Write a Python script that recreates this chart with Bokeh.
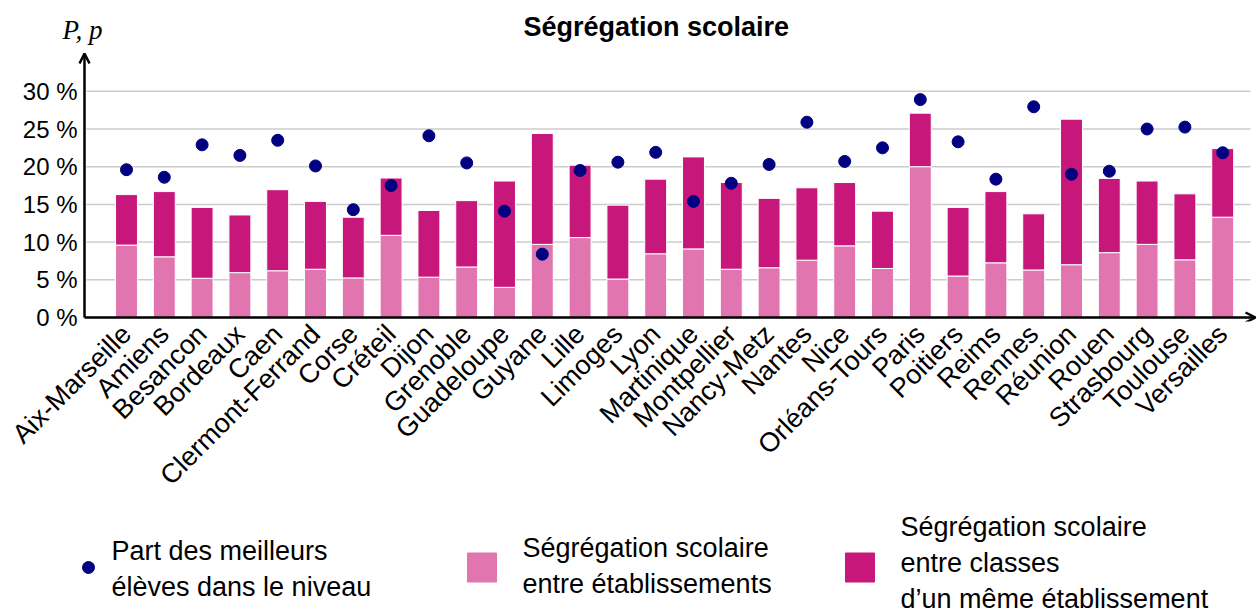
from bokeh.plotting import figure
from bokeh.models import Range1d, FixedTicker, Label, Arrow, OpenHead, ColumnDataSource
from bokeh.layouts import column
from bokeh.core.properties import value
from bokeh.embed import file_html
from bokeh.resources import INLINE

academies = ["Aix-Marseille", "Amiens", "Besancon", "Bordeaux", "Caen", "Clermont-Ferrand",
             "Corse", "Créteil", "Dijon", "Grenoble", "Guadeloupe", "Guyane", "Lille",
             "Limoges", "Lyon", "Martinique", "Montpellier", "Nancy-Metz", "Nantes", "Nice",
             "Orléans-Tours", "Paris", "Poitiers", "Reims", "Rennes", "Réunion", "Rouen",
             "Strasbourg", "Toulouse", "Versailles"]
seg_etablissements = [9.6, 8.05, 5.2, 5.95, 6.2, 6.4, 5.25, 10.9, 5.35, 6.7, 4.0, 9.7, 10.6, 5.1,
                      8.45, 9.1, 6.4, 6.6, 7.6, 9.5, 6.5, 20.0, 5.5, 7.25, 6.3, 7.0, 8.6, 9.7,
                      7.65, 13.3]
seg_classes = [6.7, 8.65, 9.4, 7.65, 10.75, 9.0, 8.05, 7.6, 8.85, 8.8, 14.1, 14.7, 9.6, 9.8,
               9.9, 12.2, 11.5, 9.2, 9.6, 8.4, 7.6, 7.1, 9.1, 9.45, 7.45, 19.3, 9.85, 8.4,
               8.75, 9.1]
part_meilleurs = [19.6, 18.6, 22.9, 21.5, 23.5, 20.1, 14.3, 17.5, 24.1, 20.5, 14.1, 8.4, 19.5,
                  20.6, 21.9, 15.4, 17.8, 20.3, 25.9, 20.7, 22.5, 28.9, 23.3, 18.35, 27.95,
                  19.0, 19.4, 25.0, 25.25, 21.85]
y_ticks = [0, 5, 10, 15, 20, 25, 30]

LIGHT = "#E075AF"
MAGENTA = "#C8177A"
NAVY = "#000080"
FONT = "Liberation Sans"
BASE_SHIFT = 9  # text drawn this many px below the given baseline

xs = list(range(len(academies)))
src = ColumnDataSource(dict(x=xs, etab=seg_etablissements, classes=seg_classes,
                            part=part_meilleurs))

# layout: page pixels -> data
CAT_PX = 37.8
X0 = 126.0
PCT_PX = 7.54
Y0 = 317.0
def dx(px):
    return (px - X0) / CAT_PX
def dy(py):
    return (Y0 - py) / PCT_PX

W = 1257
H1 = 508
FRAME_L = 60
FRAME_B = 321
p = figure(width=W, height=H1, output_backend="svg", toolbar_location=None,
           x_range=Range1d(dx(FRAME_L), dx(W)), y_range=Range1d(dy(FRAME_B), dy(0)),
           min_border_left=FRAME_L, min_border_right=0, min_border_top=0,
           min_border_bottom=H1 - FRAME_B, outline_line_color=None)

# horizontal grid lines, starting at the y axis
p.segment(x0=[dx(86)] * len(y_ticks), x1=[dx(1250)] * len(y_ticks), y0=y_ticks, y1=y_ticks,
          line_color="#CCCCCC", line_width=1.5)

p.vbar_stack(["etab", "classes"], x="x", width=0.58, source=src,
             color=[LIGHT, MAGENTA], line_color="white", line_width=1)
p.scatter("x", "part", source=src, size=12, color=NAVY)

p.grid.visible = False

p.yaxis.ticker = FixedTicker(ticks=y_ticks)
p.yaxis.major_label_overrides = {t: f"{t} %" for t in y_ticks}
p.yaxis.axis_line_color = None
p.yaxis.major_tick_line_color = None
p.yaxis.minor_tick_line_color = None
p.yaxis.major_tick_in = 0
p.yaxis.major_tick_out = 0
p.yaxis.major_label_standoff = FRAME_L - 77
p.yaxis.major_label_text_font = FONT
p.yaxis.major_label_text_font_size = "24px"
p.yaxis.major_label_text_color = "black"

p.xaxis.ticker = FixedTicker(ticks=xs)
p.xaxis.major_label_overrides = {i: a for i, a in enumerate(academies)}
p.xaxis.major_label_orientation = 0.785398
p.xaxis.axis_line_color = None
p.xaxis.major_tick_line_color = None
p.xaxis.minor_tick_line_color = None
p.xaxis.major_label_standoff = 2
p.xaxis.major_label_text_font = FONT
p.xaxis.major_label_text_font_size = "27px"
p.xaxis.major_label_text_color = "black"

# axis arrows
p.add_layout(Arrow(x_start=dx(84), y_start=0, x_end=dx(84), y_end=dy(53),
                   line_width=2.5, line_color="black",
                   end=OpenHead(size=10, line_width=2.5, line_color="black")))
p.add_layout(Arrow(x_start=dx(84), y_start=0, x_end=dx(1255), y_end=0,
                   line_width=2.5, line_color="black",
                   end=OpenHead(size=10, line_width=2.5, line_color="black")))

p.add_layout(Label(x=dx(523), y=dy(35 - BASE_SHIFT), text="Ségrégation scolaire",
                   text_font=FONT, text_font_size="27px", text_font_style="bold",
                   text_align="left", text_baseline="alphabetic", text_color="black"))
p.add_layout(Label(x=dx(62), y=dy(38 - BASE_SHIFT), text="P, p",
                   text_font="Liberation Serif",
                   text_font_size="27px", text_font_style="italic", text_align="left",
                   text_baseline="alphabetic", text_color="black"))

# legend figure (data coordinates = page pixels, y measured upward from bottom)
H2 = 614 - H1
lg = figure(width=W, height=H2, output_backend="svg", toolbar_location=None,
            x_range=Range1d(FRAME_L, W), y_range=Range1d(0, H2),
            min_border_left=FRAME_L, min_border_right=0, min_border_top=0,
            min_border_bottom=0, outline_line_color=None)
lg.axis.visible = False
lg.grid.visible = False

def lyy(py):
    return 614 - py

lg.scatter([88], [lyy(567)], size=12, color=NAVY)
lg.rect([481.5], [lyy(567)], width=29, height=29, color=LIGHT)
lg.rect([859.5], [lyy(567)], width=29, height=29, color=MAGENTA)

legend_texts = [
    (111, [559, 595], ["Part des meilleurs", "élèves dans le niveau"]),
    (522, [556, 592], ["Ségrégation scolaire", "entre établissements"]),
    (900, [535, 571, 607], ["Ségrégation scolaire", "entre classes", "d’un même établissement"]),
]
for x0, ys, lines in legend_texts:
    lg.text(x=[x0] * len(lines), y=[lyy(v - BASE_SHIFT) for v in ys], text=lines,
            text_font=value(FONT), text_font_size="27px", text_align="left",
            text_baseline="alphabetic", text_color="black")

layout = column(p, lg, spacing=0)
open("out.html", "w").write(file_html(layout, INLINE))
